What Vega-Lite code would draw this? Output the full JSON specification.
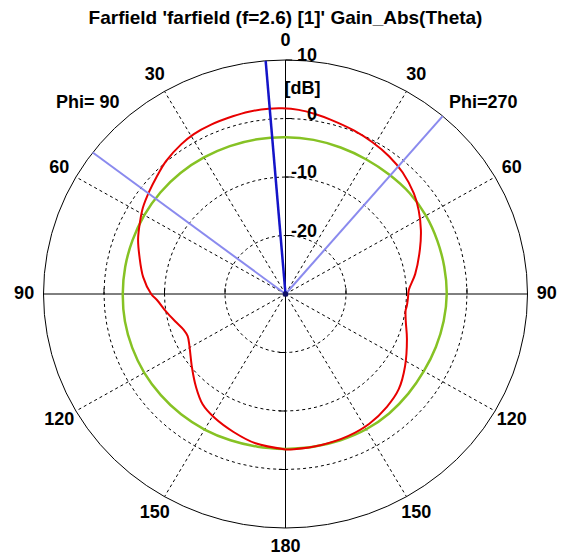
{
  "$schema": "https://vega.github.io/schema/vega-lite/v6.json",
  "width": 484,
  "height": 468,
  "autosize": {"type": "none"},
  "padding": {"left": 43.5, "top": 60, "right": 42.5, "bottom": 29},
  "background": "white",
  "title": {
    "text": "Farfield 'farfield (f=2.6) [1]' Gain_Abs(Theta)",
    "font": "Liberation Sans",
    "fontSize": 19,
    "fontWeight": "bold",
    "color": "black",
    "anchor": "middle",
    "frame": "group",
    "baseline": "alphabetic",
    "offset": -11
  },
  "config": {"view": {"stroke": null}},
  "datasets": {
    "ring": [
      {"a":0},{"a":5},{"a":10},{"a":15},{"a":20},{"a":25},{"a":30},{"a":35},{"a":40},{"a":45},{"a":50},{"a":55},{"a":60},{"a":65},{"a":70},{"a":75},{"a":80},{"a":85},{"a":90},{"a":95},{"a":100},{"a":105},{"a":110},{"a":115},{"a":120},{"a":125},{"a":130},{"a":135},{"a":140},{"a":145},{"a":150},{"a":155},{"a":160},{"a":165},{"a":170},{"a":175},{"a":180},{"a":185},{"a":190},{"a":195},{"a":200},{"a":205},{"a":210},{"a":215},{"a":220},{"a":225},{"a":230},{"a":235},{"a":240},{"a":245},{"a":250},{"a":255},{"a":260},{"a":265},{"a":270},{"a":275},{"a":280},{"a":285},{"a":290},{"a":295},{"a":300},{"a":305},{"a":310},{"a":315},{"a":320},{"a":325},{"a":330},{"a":335},{"a":340},{"a":345},{"a":350},{"a":355},{"a":360}
    ],
    "spokes": [{"a":-150},{"a":-120},{"a":-60},{"a":-30},{"a":30},{"a":60},{"a":120},{"a":150}],
    "red": [
      {"a":-180,"g":-3.43},{"a":-169,"g":-4.0},{"a":-160,"g":-4.9},{"a":-151,"g":-5.8},{"a":-144,"g":-6.7},{"a":-137,"g":-8.3},{"a":-129,"g":-10.1},{"a":-120,"g":-11.7},{"a":-114,"g":-12.3},{"a":-110,"g":-12.1},{"a":-105,"g":-11.3},{"a":-99,"g":-10.1},{"a":-93,"g":-8.8},{"a":-90,"g":-7.8},{"a":-83,"g":-6.3},{"a":-75,"g":-5.0},{"a":-69,"g":-3.9},{"a":-63,"g":-3.0},{"a":-58,"g":-2.2},{"a":-52,"g":-1.45},{"a":-47,"g":-0.8},{"a":-41,"g":0.1},{"a":-34,"g":0.85},{"a":-29,"g":1.25},{"a":-23,"g":1.45},{"a":-16,"g":1.6},{"a":-11,"g":1.75},{"a":-5,"g":1.8},{"a":-1,"g":1.75},{"a":4,"g":1.55},{"a":9,"g":1.15},{"a":14,"g":0.72},{"a":22,"g":0.15},{"a":29,"g":-0.35},{"a":36,"g":-0.9},{"a":43,"g":-1.6},{"a":51,"g":-2.7},{"a":57,"g":-3.75},{"a":64,"g":-5.1},{"a":71,"g":-6.5},{"a":81,"g":-8.3},{"a":88,"g":-9.6},{"a":92,"g":-9.75},{"a":96,"g":-9.85},{"a":98,"g":-9.95},{"a":103,"g":-9.6},{"a":111,"g":-8.5},{"a":122,"g":-6.7},{"a":131,"g":-5.2},{"a":139,"g":-4.45},{"a":148,"g":-3.85},{"a":157,"g":-3.6},{"a":167,"g":-3.52},{"a":177,"g":-3.44},{"a":180,"g":-3.43}
    ],
    "green": [
      {"a":-180,"g":-3.5},{"a":-170,"g":-3.5},{"a":-160,"g":-3.4},{"a":-150,"g":-3.25},{"a":-140,"g":-3.15},{"a":-130,"g":-3.1},{"a":-120,"g":-3.05},{"a":-110,"g":-3.05},{"a":-100,"g":-3.05},{"a":-90,"g":-3.1},{"a":-80,"g":-3.1},{"a":-70,"g":-3.1},{"a":-60,"g":-3.05},{"a":-50,"g":-3.0},{"a":-40,"g":-3.0},{"a":-30,"g":-3.05},{"a":-20,"g":-3.1},{"a":-10,"g":-3.15},{"a":0,"g":-3.2},{"a":10,"g":-3.25},{"a":20,"g":-3.35},{"a":30,"g":-3.4},{"a":40,"g":-3.35},{"a":50,"g":-3.2},{"a":60,"g":-3.2},{"a":70,"g":-3.3},{"a":80,"g":-3.35},{"a":90,"g":-3.35},{"a":100,"g":-3.45},{"a":110,"g":-3.55},{"a":120,"g":-3.6},{"a":130,"g":-3.5},{"a":140,"g":-3.35},{"a":150,"g":-3.3},{"a":160,"g":-3.4},{"a":170,"g":-3.5},{"a":180,"g":-3.5}
    ],
    "mainlobe": [{"a":-4.7}],
    "beam": [{"a":-52.8},{"a":40.5}],
    "angles": [
      {"a":0,"t":"0"},{"a":-30,"t":"30"},{"a":30,"t":"30"},{"a":-60,"t":"60"},{"a":60,"t":"60"},{"a":-90,"t":"90"},{"a":90,"t":"90"},{"a":-120,"t":"120"},{"a":120,"t":"120"},{"a":-150,"t":"150"},{"a":150,"t":"150"},{"a":180,"t":"180"}
    ],
    "phi": [{"a":-45,"t":"Phi= 90"},{"a":45,"t":"Phi=270"}],
    "dblabels": [{"g":10,"t":"10"},{"g":0,"t":"0"},{"g":-10,"t":"-10"},{"g":-20,"t":"-20"}],
    "unit": [{"g":5,"t":"[dB]"}],
    "axes": [{"x1":-40,"x2":40,"y1":0,"y2":0},{"x1":0,"x2":0,"y1":-40,"y2":40}],
    "ticks": [
      {"x1":0,"x2":1.1,"y1":10,"y2":10},{"x1":0,"x2":1.1,"y1":20,"y2":20},{"x1":0,"x2":1.1,"y1":30,"y2":30},{"x1":0,"x2":1.1,"y1":40,"y2":40},
      {"x1":-1.1,"x2":0,"y1":-10,"y2":-10},{"x1":-1.1,"x2":0,"y1":-20,"y2":-20},{"x1":-1.1,"x2":0,"y1":-30,"y2":-30},
      {"x1":-30,"x2":-30,"y1":0,"y2":1},{"x1":-20,"x2":-20,"y1":0,"y2":1},{"x1":-10,"x2":-10,"y1":0,"y2":1},
      {"x1":10,"x2":10,"y1":0,"y2":1},{"x1":20,"x2":20,"y1":0,"y2":1},{"x1":30,"x2":30,"y1":0,"y2":1}
    ],
    "center": [{"x":0,"y":0}]
  },
  "layer": [
    {
      "data": {"name": "ring"},
      "transform": [{"calculate": "10 * sin(datum.a * PI / 180)", "as": "x"}, {"calculate": "10 * cos(datum.a * PI / 180)", "as": "y"}],
      "mark": {"type": "line", "color": "black", "strokeWidth": 1, "strokeDash": [3, 3]},
      "encoding": {
        "x": {"field": "x", "type": "quantitative", "scale": {"domain": [-40, 40], "nice": false, "zero": false}, "axis": null},
        "y": {"field": "y", "type": "quantitative", "scale": {"domain": [-40, 40], "nice": false, "zero": false}, "axis": null},
        "order": {"field": "a"}
      }
    },
    {
      "data": {"name": "ring"},
      "transform": [{"calculate": "20 * sin(datum.a * PI / 180)", "as": "x"}, {"calculate": "20 * cos(datum.a * PI / 180)", "as": "y"}],
      "mark": {"type": "line", "color": "black", "strokeWidth": 1, "strokeDash": [3, 3]},
      "encoding": {
        "x": {"field": "x", "type": "quantitative"},
        "y": {"field": "y", "type": "quantitative"},
        "order": {"field": "a"}
      }
    },
    {
      "data": {"name": "ring"},
      "transform": [{"calculate": "30 * sin(datum.a * PI / 180)", "as": "x"}, {"calculate": "30 * cos(datum.a * PI / 180)", "as": "y"}],
      "mark": {"type": "line", "color": "black", "strokeWidth": 1, "strokeDash": [3, 3]},
      "encoding": {
        "x": {"field": "x", "type": "quantitative"},
        "y": {"field": "y", "type": "quantitative"},
        "order": {"field": "a"}
      }
    },
    {
      "data": {"name": "ring"},
      "transform": [{"calculate": "40 * sin(datum.a * PI / 180)", "as": "x"}, {"calculate": "40 * cos(datum.a * PI / 180)", "as": "y"}],
      "mark": {"type": "line", "color": "black", "strokeWidth": 1},
      "encoding": {
        "x": {"field": "x", "type": "quantitative"},
        "y": {"field": "y", "type": "quantitative"},
        "order": {"field": "a"}
      }
    },
    {
      "data": {"name": "spokes"},
      "transform": [
        {"calculate": "0", "as": "x"}, {"calculate": "0", "as": "y"},
        {"calculate": "40 * sin(datum.a * PI / 180)", "as": "x2"}, {"calculate": "40 * cos(datum.a * PI / 180)", "as": "y2"}
      ],
      "mark": {"type": "rule", "color": "black", "strokeWidth": 1, "strokeDash": [3, 3]},
      "encoding": {
        "x": {"field": "x", "type": "quantitative"},
        "y": {"field": "y", "type": "quantitative"},
        "x2": {"field": "x2"},
        "y2": {"field": "y2"}
      }
    },
    {
      "data": {"name": "axes"},
      "mark": {"type": "rule", "color": "black", "strokeWidth": 1},
      "encoding": {
        "x": {"field": "x1", "type": "quantitative"},
        "y": {"field": "y1", "type": "quantitative"},
        "x2": {"field": "x2"},
        "y2": {"field": "y2"}
      }
    },
    {
      "data": {"name": "ticks"},
      "mark": {"type": "rule", "color": "black", "strokeWidth": 1},
      "encoding": {
        "x": {"field": "x1", "type": "quantitative"},
        "y": {"field": "y1", "type": "quantitative"},
        "x2": {"field": "x2"},
        "y2": {"field": "y2"}
      }
    },
    {
      "data": {"name": "green"},
      "transform": [{"calculate": "(datum.g + 30) * sin(datum.a * PI / 180)", "as": "x"}, {"calculate": "(datum.g + 30) * cos(datum.a * PI / 180)", "as": "y"}],
      "mark": {"type": "line", "color": "#86c224", "strokeWidth": 2.5, "interpolate": "catmull-rom"},
      "encoding": {
        "x": {"field": "x", "type": "quantitative"},
        "y": {"field": "y", "type": "quantitative"},
        "order": {"field": "a"}
      }
    },
    {
      "data": {"name": "red"},
      "transform": [{"calculate": "(datum.g + 30) * sin(datum.a * PI / 180)", "as": "x"}, {"calculate": "(datum.g + 30) * cos(datum.a * PI / 180)", "as": "y"}],
      "mark": {"type": "line", "color": "#e80000", "strokeWidth": 2, "interpolate": "catmull-rom"},
      "encoding": {
        "x": {"field": "x", "type": "quantitative"},
        "y": {"field": "y", "type": "quantitative"},
        "order": {"field": "a"}
      }
    },
    {
      "data": {"name": "beam"},
      "transform": [
        {"calculate": "0", "as": "x"}, {"calculate": "0", "as": "y"},
        {"calculate": "40 * sin(datum.a * PI / 180)", "as": "x2"}, {"calculate": "40 * cos(datum.a * PI / 180)", "as": "y2"}
      ],
      "mark": {"type": "rule", "color": "#8a8aee", "strokeWidth": 2},
      "encoding": {
        "x": {"field": "x", "type": "quantitative"},
        "y": {"field": "y", "type": "quantitative"},
        "x2": {"field": "x2"},
        "y2": {"field": "y2"}
      }
    },
    {
      "data": {"name": "mainlobe"},
      "transform": [
        {"calculate": "0", "as": "x"}, {"calculate": "0", "as": "y"},
        {"calculate": "40 * sin(datum.a * PI / 180)", "as": "x2"}, {"calculate": "40 * cos(datum.a * PI / 180)", "as": "y2"}
      ],
      "mark": {"type": "rule", "color": "#1414c8", "strokeWidth": 2.5},
      "encoding": {
        "x": {"field": "x", "type": "quantitative"},
        "y": {"field": "y", "type": "quantitative"},
        "x2": {"field": "x2"},
        "y2": {"field": "y2"}
      }
    },
    {
      "data": {"name": "center"},
      "mark": {"type": "point", "filled": true, "color": "#10106a", "size": 30, "opacity": 1},
      "encoding": {
        "x": {"field": "x", "type": "quantitative"},
        "y": {"field": "y", "type": "quantitative"}
      }
    },
    {
      "data": {"name": "angles"},
      "transform": [{"calculate": "43.2 * sin(datum.a * PI / 180)", "as": "x"}, {"calculate": "43.2 * cos(datum.a * PI / 180)", "as": "y"}],
      "mark": {"type": "text", "font": "Liberation Sans", "fontSize": 18, "fontWeight": "bold", "color": "black", "align": "center", "baseline": "middle"},
      "encoding": {
        "x": {"field": "x", "type": "quantitative"},
        "y": {"field": "y", "type": "quantitative"},
        "text": {"field": "t"}
      }
    },
    {
      "data": {"name": "phi"},
      "transform": [{"calculate": "46.2 * sin(datum.a * PI / 180)", "as": "x"}, {"calculate": "46.2 * cos(datum.a * PI / 180)", "as": "y"}],
      "mark": {"type": "text", "font": "Liberation Sans", "fontSize": 18, "fontWeight": "bold", "color": "black", "align": "center", "baseline": "middle"},
      "encoding": {
        "x": {"field": "x", "type": "quantitative"},
        "y": {"field": "y", "type": "quantitative"},
        "text": {"field": "t"}
      }
    },
    {
      "data": {"name": "dblabels"},
      "transform": [{"calculate": "5.2", "as": "x"}, {"calculate": "datum.g + 30", "as": "y"}],
      "mark": {"type": "text", "font": "Liberation Sans", "fontSize": 18, "fontWeight": "bold", "color": "black", "align": "right", "baseline": "middle", "dy": -4},
      "encoding": {
        "x": {"field": "x", "type": "quantitative"},
        "y": {"field": "y", "type": "quantitative"},
        "text": {"field": "t"}
      }
    },
    {
      "data": {"name": "unit"},
      "transform": [{"calculate": "2.8", "as": "x"}, {"calculate": "datum.g + 30", "as": "y"}],
      "mark": {"type": "text", "font": "Liberation Sans", "fontSize": 18, "fontWeight": "bold", "color": "black", "align": "center", "baseline": "middle"},
      "encoding": {
        "x": {"field": "x", "type": "quantitative"},
        "y": {"field": "y", "type": "quantitative"},
        "text": {"field": "t"}
      }
    }
  ]
}
